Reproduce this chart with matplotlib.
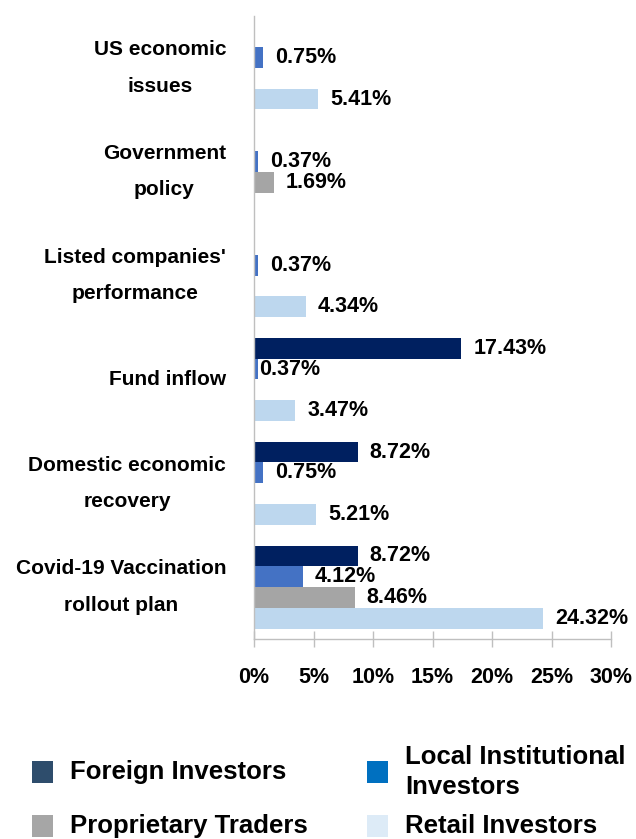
import numpy as np
import matplotlib
matplotlib.use("Agg")
import matplotlib.pyplot as plt
from matplotlib.patches import Rectangle
from matplotlib.transforms import ScaledTranslation

plt.rcParams['font.family'] = ['Liberation Sans', 'DejaVu Sans']
plt.rcParams['font.weight'] = 'bold'

categories = ["US economic\nissues", "Government\npolicy", "Listed companies'\nperformance",
              "Fund inflow", "Domestic economic\nrecovery", "Covid-19 Vaccination\nrollout plan"]
series = ["Foreign Investors", "Local Institutional\nInvestors", "Proprietary Traders", "Retail Investors"]
foreign = [0, 0, 0, 17.43, 8.72, 8.72]
local_inst = [0.75, 0.37, 0.37, 0.37, 0.75, 4.12]
proprietary = [0, 1.69, 0, 0, 0, 8.46]
retail = [5.41, 0, 4.34, 3.47, 5.21, 24.32]
values = [foreign, local_inst, proprietary, retail]

bar_colors = ["#002060", "#4472C4", "#A5A5A5", "#BDD7EE"]
legend_colors = ["#2E4D6C", "#0070C0", "#A6A6A6", "#DDEBF7"]

fig = plt.figure(figsize=(6.36, 8.39), dpi=100)
ax = fig.add_axes([254/636, 1 - 639/839, (611-254)/636, (639-16)/839])

y = np.arange(len(categories))
h = 0.2
for i, vals in enumerate(values):
    pos = y + (i - 1.5) * h
    vals = np.array(vals)
    ax.barh(pos, vals, height=h, color=bar_colors[i], edgecolor='none')
    for j, (p, v) in enumerate(zip(pos, vals)):
        if v > 0:
            dx = 0.5 if (i == 1 and j == 3) else 8.6  # fund inflow label sits on the bar
            ax.annotate(f"{v:.2f}%", (v, p), xytext=(dx, 0), textcoords='offset points',
                        ha='left', va='center', fontsize=15.5, fontweight='bold')

ax.set_xlim(0, 30)
ax.set_ylim(5.5, -0.5)
ax.set_xticks(np.arange(0, 31, 5))
ax.set_xticklabels([f"{t}%" for t in range(0, 31, 5)], fontsize=15.5, fontweight='bold')
ax.set_yticks(y)
ax.set_yticklabels([])
ax.tick_params(axis='y', length=0)
ax.tick_params(axis='x', direction='inout', length=12, width=1, color='#BFBFBF', pad=14)

# category names as plain text, right edge 28px left of the axis
tr = ax.get_yaxis_transform() + ScaledTranslation(-0.28, 0, fig.dpi_scale_trans)
for yy, name in zip(y, categories):
    ax.text(0, yy, name, transform=tr, ha='right', va='center', multialignment='center',
            fontsize=15, fontweight='bold', linespacing=2.15)

for s in ['top', 'right']:
    ax.spines[s].set_visible(False)
for s in ['left', 'bottom']:
    ax.spines[s].set_color('#BFBFBF')
    ax.spines[s].set_linewidth(1)

# legend built by hand so the two rows line up
sq_w, sq_h = 21/636, 22/839
rows = [772/839, 826/839]
cols = [32/636, 367/636]
text_x = [70/636, 405/636]
for k, name in enumerate(series):
    c, r = k % 2, k // 2
    yc = 1 - rows[r]
    fig.add_artist(Rectangle((cols[c], yc - sq_h/2), sq_w, sq_h, transform=fig.transFigure,
                             facecolor=legend_colors[k], edgecolor='none'))
    fig.text(text_x[c], yc, name, ha='left', va='center', fontsize=18.5, fontweight='bold',
             linespacing=1.3)

fig.savefig("out.png", dpi=100)
